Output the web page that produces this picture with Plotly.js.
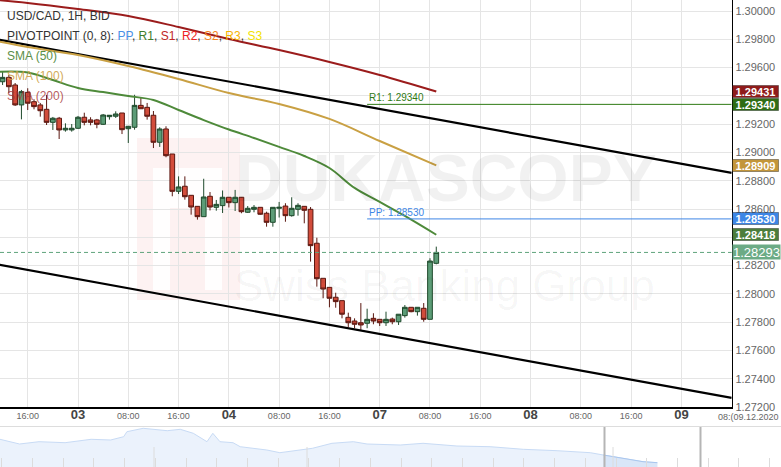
<!DOCTYPE html>
<html><head><meta charset="utf-8">
<script src="https://cdn.plot.ly/plotly-3.0.1.min.js"></script>
<style>html,body{margin:0;padding:0;background:#fff;overflow:hidden}</style>
</head><body><div id="chart" style="width:781px;height:467px"></div>
<script>
// ---- candle data (hour index: 0 = 02 Dec 16:00, weekend removed) ----
const hours = [-4,-3,-2,-1,0,1,2,3,4,5,6,7,8,9,10,11,12,13,14,15,16,17,18,19,20,21,22,23,24,25,26,27,28,29,30,31,32,33,34,35,36,37,38,39,40,41,42,43,44,45,46,47,48,49,50,51,52,53,54,55,56,57,58,59,60,61,62,63,64,65];
const openP = [1.29500,1.29531,1.29477,1.29336,1.29425,1.29359,1.29336,1.29305,1.29213,1.29242,1.29159,1.29159,1.29171,1.29249,1.29230,1.29230,1.29199,1.29253,1.29256,1.29279,1.29168,1.29178,1.29333,1.29319,1.29263,1.29072,1.29166,1.28989,1.28725,1.28761,1.28697,1.28619,1.28546,1.28690,1.28612,1.28624,1.28683,1.28645,1.28683,1.28577,1.28598,1.28612,1.28570,1.28506,1.28605,1.28621,1.28553,1.28598,1.28619,1.28598,1.28358,1.28110,1.28046,1.27976,1.27952,1.27834,1.27808,1.27796,1.27792,1.27827,1.27820,1.27796,1.27822,1.27803,1.27846,1.27905,1.27874,1.27898,1.27820,1.28216];
const highP = [1.29576,1.29548,1.29491,1.29442,1.29454,1.29376,1.29350,1.29406,1.29251,1.29251,1.29206,1.29201,1.29258,1.29281,1.29249,1.29237,1.29272,1.29263,1.29291,1.29279,1.29187,1.29408,1.29392,1.29350,1.29293,1.29178,1.29185,1.28989,1.28831,1.28831,1.28699,1.28621,1.28814,1.28720,1.28664,1.28731,1.28683,1.28735,1.28685,1.28621,1.28628,1.28612,1.28581,1.28612,1.28650,1.28641,1.28683,1.28641,1.28621,1.28614,1.28397,1.28110,1.28046,1.28008,1.27952,1.27867,1.27827,1.27935,1.27895,1.27863,1.27820,1.27874,1.27832,1.27856,1.27921,1.27905,1.27905,1.27935,1.28252,1.28334];
const lowP = [1.29477,1.29420,1.29329,1.29234,1.29300,1.29305,1.29253,1.29194,1.29159,1.29095,1.29147,1.29147,1.29166,1.29192,1.29192,1.29171,1.29194,1.29232,1.29244,1.29130,1.29067,1.29161,1.29309,1.29232,1.29031,1.29039,1.28966,1.28690,1.28706,1.28666,1.28560,1.28525,1.28546,1.28590,1.28588,1.28572,1.28611,1.28586,1.28570,1.28572,1.28577,1.28559,1.28475,1.28475,1.28540,1.28510,1.28546,1.28553,1.28499,1.28228,1.28051,1.27969,1.27905,1.27902,1.27827,1.27764,1.27757,1.27745,1.27757,1.27785,1.27773,1.27773,1.27785,1.27780,1.27832,1.27870,1.27846,1.27803,1.27820,1.28209];
const closeP = [1.29531,1.29465,1.29336,1.29430,1.29348,1.29324,1.29295,1.29213,1.29242,1.29159,1.29171,1.29171,1.29249,1.29213,1.29213,1.29199,1.29265,1.29263,1.29272,1.29161,1.29185,1.29333,1.29309,1.29256,1.29072,1.29166,1.28977,1.28725,1.28756,1.28687,1.28614,1.28546,1.28685,1.28614,1.28633,1.28683,1.28645,1.28683,1.28581,1.28605,1.28612,1.28563,1.28506,1.28612,1.28612,1.28553,1.28605,1.28626,1.28591,1.28341,1.28107,1.28034,1.27969,1.27945,1.27856,1.27796,1.27785,1.27780,1.27820,1.27808,1.27796,1.27820,1.27803,1.27856,1.27905,1.27874,1.27905,1.27820,1.28232,1.28293];

// ---- moving averages ----
const sma200X = [-5,0,8,16,24,32,40,48,56,65];
const sma200Y = [1.30078,1.30057,1.30014,1.29965,1.29887,1.29802,1.29724,1.29640,1.29548,1.29431];
const sma100X = [-5,0,8,16,24,32,40,48,56,65];
const sma100Y = [1.29788,1.29746,1.29689,1.29611,1.29519,1.29420,1.29343,1.29237,1.29081,1.28909];
const sma50X = [-5,0,4,8,12,16,20,24,28,32,36,40,44,48,52,56,60,65];
const sma50Y = [1.29569,1.29565,1.29512,1.29456,1.29427,1.29399,1.29371,1.29300,1.29229,1.29162,1.29102,1.29039,1.28975,1.28890,1.28749,1.28650,1.28551,1.28418];

// ---- channel trend lines ----
const chanX = [-5,112];
const chanUpper = [1.29800,1.28855];
const chanLower = [1.28209,1.27264];

// ---- pivot points ----
const pivotX = [54,112];
const pivotPP = 1.28530;
const pivotR1 = 1.29340;

// ---- axis ticks ----
const xTickVals = [0,8,16,24,32,40,48,56,64,72,80,88,96,104,112];
const xTickText = ['16:00','03','08:00','16:00','04','08:00','16:00','07','08:00','16:00','08','08:00','16:00','09',''];
const yTickVals = [1.272,1.274,1.276,1.278,1.280,1.282,1.284,1.286,1.288,1.290,1.292,1.294,1.296,1.298,1.300];
const yTickText = ['1.27200','1.27400','1.27600','1.27800','1.28000','1.28200','','1.28600','1.28800','1.29000','1.29200','','1.29600','1.29800','1.30000'];

// ---- navigator (overview) ----
const navX = [0,3,6,10,14,17,19,19.5,22,25.7,27.7,29.7,31.8,32.7,33.8,35.8,36.9,41,43,46,48,51,54.3,56.4,61.5,65,70.2,75.3,80.4,85.6,90.7,92.7,95.7,98.8,101];
const navY = [1.31848,1.31025,1.31428,1.31253,1.31848,1.31725,1.32303,1.33178,1.33773,1.33353,1.33598,1.32898,1.31428,1.32898,1.31428,1.31253,1.30553,1.29975,1.29503,1.29975,1.30273,1.31148,1.31428,1.31025,1.30850,1.31148,1.30675,1.30553,1.30098,1.29853,1.29503,1.29100,1.28523,1.27928,1.27753];

// ---- right-hand price labels ----
const priceLabels = [
  {v:1.29431, bg:'#8e1b1b'},
  {v:1.29340, bg:'#2f6d14'},
  {v:1.28909, bg:'#c3963a'},
  {v:1.28530, bg:'#3d86e6'},
  {v:1.28418, bg:'#4b7d3b'}
];

const W = 781, H = 467;
const px = x => x / W;
const py = y => 1 - y / H;
const FONT = 'Liberation Sans, Arial, sans-serif';

const isDay = t => /^\d\d$/.test(t);
const tickText = xTickText.map(t => isDay(t) ? '<b><span style="font-size:13px;fill:#444">' + t + '</span></b>' : t);

const traces = [
  {type:'scatter', mode:'lines', x:chanX, y:chanUpper, line:{color:'#000', width:2.2}, hoverinfo:'skip'},
  {type:'scatter', mode:'lines', x:chanX, y:chanLower, line:{color:'#000', width:2.2}, hoverinfo:'skip'},
  {type:'scatter', mode:'lines', x:sma200X, y:sma200Y, line:{color:'#9b1c1c', width:2, shape:'spline'}, hoverinfo:'skip'},
  {type:'scatter', mode:'lines', x:sma100X, y:sma100Y, line:{color:'#c9a043', width:2, shape:'spline'}, hoverinfo:'skip'},
  {type:'scatter', mode:'lines', x:sma50X, y:sma50Y, line:{color:'#4e8a3a', width:2, shape:'spline'}, hoverinfo:'skip'},
  {type:'scatter', mode:'lines', x:pivotX, y:[pivotR1,pivotR1], line:{color:'#2f7a14', width:1}, hoverinfo:'skip'},
  {type:'scatter', mode:'lines', x:pivotX, y:[pivotPP,pivotPP], line:{color:'#3d86e6', width:1}, hoverinfo:'skip'},
  {type:'candlestick', x:hours, open:openP, high:highP, low:lowP, close:closeP,
    increasing:{line:{color:'#1f4a2c', width:1}, fillcolor:'#5c9c77'},
    decreasing:{line:{color:'#5a1710', width:1}, fillcolor:'#d24c3b'},
    whiskerwidth:0, hoverinfo:'skip', xaxis:'x', yaxis:'y'},
  {type:'scatter', mode:'lines', x:navX, y:navY, xaxis:'x2', yaxis:'y2', fill:'tozeroy',
    fillcolor:'#ebf2fc', line:{color:'#c8dbf5', width:1}, hoverinfo:'skip'},
  {type:'scatter', mode:'lines', x:navX.slice(31), y:navY.slice(31), xaxis:'x2', yaxis:'y2', fill:'tozeroy',
    fillcolor:'#d9e6f8', line:{color:'#a9c6ee', width:1}, hoverinfo:'skip'}
];

const lastClose = closeP[closeP.length - 1];
const xDomR = 731.7 / W;

const annotations = [
  {xref:'paper', yref:'paper', x:px(5), y:py(15.5), xanchor:'left', yanchor:'middle', showarrow:false,
   text:'USD/CAD, 1H, BID', font:{family:FONT, size:12, color:'#333'}},
  {xref:'paper', yref:'paper', x:px(5), y:py(35.5), xanchor:'left', yanchor:'middle', showarrow:false,
   text:'PIVOTPOINT (0, 8): <span style="fill:#4a8fe6">PP</span>, <span style="fill:#3d7d2a">R1</span>, <span style="fill:#c02626">S1</span>, <span style="fill:#ee2222">R2</span>, <span style="fill:#f5841c">S2</span>, <span style="fill:#f6b400">R3</span>, <span style="fill:#f2e200">S3</span>',
   font:{family:FONT, size:12, color:'#333'}},
  {xref:'paper', yref:'paper', x:px(5), y:py(55.5), xanchor:'left', yanchor:'middle', showarrow:false,
   text:'SMA (50)', font:{family:FONT, size:12, color:'#5b8f48'}},
  {xref:'paper', yref:'paper', x:px(5), y:py(75.5), xanchor:'left', yanchor:'middle', showarrow:false,
   text:'SMA (100)', font:{family:FONT, size:12, color:'rgba(205,160,70,0.9)'}},
  {xref:'paper', yref:'paper', x:px(5), y:py(95.5), xanchor:'left', yanchor:'middle', showarrow:false,
   text:'SMA (200)', font:{family:FONT, size:12, color:'rgba(165,50,50,0.8)'}},
  // watermark
  {xref:'paper', yref:'paper', x:px(446), y:py(178), xanchor:'center', yanchor:'middle', showarrow:false,
   text:'<b>DUKASCOPY</b>', font:{family:'Liberation Sans Narrow, Arial Narrow, sans-serif', size:66, color:'rgba(0,0,0,0.055)'}},
  {xref:'paper', yref:'paper', x:px(444), y:py(285), xanchor:'center', yanchor:'middle', showarrow:false,
   text:'Swiss Banking Group', font:{family:'Liberation Sans Narrow, Arial Narrow, sans-serif', size:44, color:'rgba(0,0,0,0.04)'}},
  // pivot labels
  {xref:'x', yref:'y', x:pivotX[0], y:pivotR1, xanchor:'left', yanchor:'bottom', showarrow:false, yshift:-1,
   text:'R1: ' + pivotR1.toFixed(5), font:{family:FONT, size:10, color:'#2f7a14'}},
  {xref:'x', yref:'y', x:pivotX[0], y:pivotPP, xanchor:'left', yanchor:'bottom', showarrow:false, yshift:-1,
   text:'PP: ' + pivotPP.toFixed(5), font:{family:FONT, size:10, color:'#3d86e6'}},
  // date label at right end of x axis
  {xref:'paper', yref:'paper', x:px(716), y:py(416.5), xanchor:'left', yanchor:'middle', showarrow:false,
   text:'08:(09.12.2020', font:{family:FONT, size:9, color:'#666'}}
];
priceLabels.forEach(p => annotations.push({
  xref:'paper', yref:'y', x:px(732), y:p.v, xanchor:'left', yanchor:'middle', showarrow:false,
  text:'<b>' + p.v.toFixed(5) + '</b>', font:{family:FONT, size:11, color:'#fff'},
  bgcolor:p.bg, bordercolor:'rgba(0,0,0,0.35)', borderwidth:1, borderpad:0, width:45, height:11
}));
annotations.push({
  xref:'paper', yref:'y', x:px(732), y:lastClose, xanchor:'left', yanchor:'middle', showarrow:false,
  text:lastClose.toFixed(5), font:{family:FONT, size:13, color:'#fff'},
  bgcolor:'#6cab86', borderpad:0, width:47, height:14
});

const shapes = [
  // watermark logo
  {type:'rect', xref:'paper', yref:'paper', x0:px(137), x1:px(240), y0:py(300), y1:py(138), fillcolor:'rgba(225,70,70,0.07)', line:{width:0}, layer:'below'},
  {type:'rect', xref:'paper', yref:'paper', x0:px(153), x1:px(222), y0:py(290), y1:py(168), fillcolor:'rgba(255,255,255,0.9)', line:{width:0}, layer:'below'},
  {type:'rect', xref:'paper', yref:'paper', x0:px(170), x1:px(205), y0:py(290), y1:py(208), fillcolor:'rgba(225,70,70,0.07)', line:{width:0}, layer:'below'},
  // current price dashed line
  {type:'line', xref:'paper', yref:'y', x0:0, x1:xDomR, y0:lastClose, y1:lastClose, line:{color:'#5fa47c', width:1, dash:'4px,3px'}},
  // navigator top border
  {type:'line', xref:'paper', yref:'paper', x0:0, x1:1, y0:py(426.5), y1:py(426.5), line:{color:'#dddddd', width:1}},
  // navigator handles
  {type:'line', xref:'paper', yref:'paper', x0:px(604.5), x1:px(604.5), y0:0, y1:py(427), line:{color:'#b5b5b5', width:2}},
  {type:'line', xref:'paper', yref:'paper', x0:px(700.5), x1:px(700.5), y0:0, y1:py(427), line:{color:'#b5b5b5', width:2}}
];
// navigator week separators
[154, 307, 613].forEach(x => shapes.push({type:'line', xref:'paper', yref:'paper', x0:px(x), x1:px(x), y0:0, y1:py(447), line:{color:'#dcdcdc', width:1}}));

const layout = {
  width:W, height:H, margin:{l:0, r:0, t:0, b:0},
  paper_bgcolor:'#fff', plot_bgcolor:'rgba(0,0,0,0)',
  showlegend:false, dragmode:false,
  boxgap:0.25, boxgroupgap:0,
  font:{family:FONT},
  xaxis:{domain:[0, xDomR], range:[-4.41, 112], anchor:'y', tickvals:xTickVals, ticktext:tickText,
    showgrid:true, gridcolor:'#e5e5e5', gridwidth:1, zeroline:false, showline:true, linecolor:'#000', linewidth:1.5,
    ticks:'', tickfont:{size:9, color:'#666', family:FONT}, rangeslider:{visible:false}, fixedrange:true, automargin:false},
  yaxis:{domain:[py(407), 1], range:[1.2720, 1.30078], anchor:'x', side:'right', tickvals:yTickVals, ticktext:yTickText,
    showgrid:true, gridcolor:'#e5e5e5', gridwidth:1, zeroline:false, showline:true, linecolor:'#000', linewidth:1.5,
    ticks:'', tickfont:{size:11, color:'#666', family:FONT}, fixedrange:true, automargin:false},
  xaxis2:{domain:[0,1], range:[0,120], anchor:'y2', showgrid:false, zeroline:false, showline:false,
    ticks:'inside', ticklen:9, tickcolor:'#dcdcdc', tick0:0.26, dtick:4.72, showticklabels:false, fixedrange:true},
  yaxis2:{domain:[0, py(427)], range:[1.270, 1.340], anchor:'x2', showgrid:false, zeroline:false, showline:false,
    showticklabels:false, ticks:'', fixedrange:true},
  annotations:annotations,
  shapes:shapes
};

Plotly.newPlot('chart', traces, layout, {staticPlot:true, displayModeBar:false});
</script>
</body></html>
